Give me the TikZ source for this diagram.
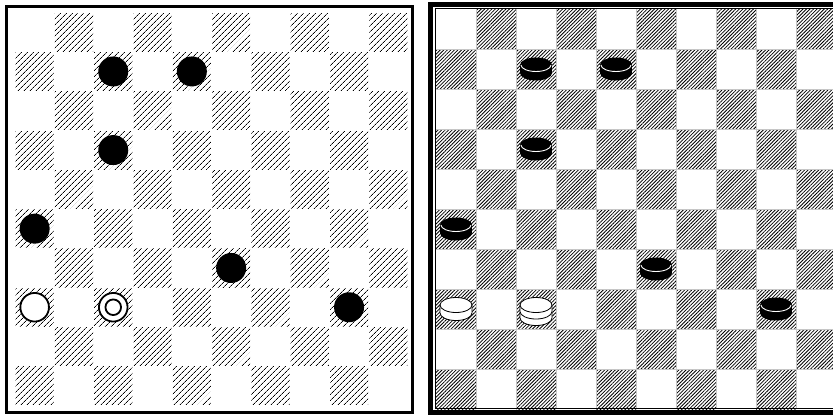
\documentclass[tikz,border=0pt]{standalone}
\usetikzlibrary{patterns.meta}
\begin{document}
\begin{tikzpicture}[x=1pt,y=-1pt,
  frame/.style={line width=3.5pt},
  lhatch/.style={pattern={Lines[angle=45,distance=4pt,line width=0.8pt]},pattern color=black},
  rhatch/.style={pattern={Lines[angle=45,distance=2.5pt,line width=0.8pt]},pattern color=black},
  gridline/.style={gray!45,line width=0.6pt},
  piece/.style={line width=0.8pt},
  bchk/.pic={
    \fill (0,4) ellipse[x radius=16,y radius=7.5];
    \fill (-16,-4) rectangle (16,4);
    \fill (0,-4) ellipse[x radius=16,y radius=7.5];
    \draw[white,line width=0.9pt] (15,-4) arc[start angle=0,end angle=180,x radius=15,y radius=6.5];
  },
  wchk/.pic={
    \draw[piece,fill=white] (-16,-4) -- (-16,4) arc[start angle=180,end angle=0,x radius=16,y radius=7.5] -- (16,-4);
    \draw[piece,fill=white] (0,-4) ellipse[x radius=16,y radius=7.5];
  },
  wking/.pic={
    \draw[piece,fill=white] (-16,2.5) -- (-16,9) arc[start angle=180,end angle=0,x radius=16,y radius=7.5] -- (16,2.5);
    \draw[piece,fill=white] (-16,-4) -- (-16,2.5) arc[start angle=180,end angle=0,x radius=16,y radius=7.5] -- (16,-4);
    \draw[piece,fill=white] (0,-4) ellipse[x radius=16,y radius=7.5];
  }]
\useasboundingbox (0,0) rectangle (833,416);
\clip (0,0) rectangle (833,416);
\fill[white] (0,0) rectangle (833,416);
% ---------- left board ----------
\foreach \r in {1,...,10}{
  \foreach \c in {1,...,10}{
    \pgfmathtruncatemacro\pty{mod(\r+\c,2)}
    \ifnum\pty=1
      \path[lhatch] ({15+39.3*(\c-1)+0.6},{12.5+39.3*(\r-1)+0.6}) rectangle ++(38.1,38.1);
    \fi
  }
}
\draw[frame] (6.5,6.5) rectangle (412.5,412.5);
\foreach \r/\c in {2/3,2/5,4/3,6/1,7/6,8/9}{
  \fill ({15+39.3*(\c-0.5)},{12.5+39.3*(\r-0.5)}) circle[radius=15];
}
\draw[line width=1.8pt,fill=white] ({15+39.3*0.5},{12.5+39.3*7.5}) circle[radius=14.3];
\draw[line width=1.8pt,fill=white] ({15+39.3*2.5},{12.5+39.3*7.5}) circle[radius=14.3];
\draw[line width=1.8pt] ({15+39.3*2.5},{12.5+39.3*7.5}) circle[radius=7.8];
% ---------- right board ----------
\foreach \r in {1,...,10}{
  \foreach \c in {1,...,10}{
    \pgfmathtruncatemacro\pty{mod(\r+\c,2)}
    \ifnum\pty=1
      \path[rhatch] ({436+40*(\c-1)},{9+40*(\r-1)}) rectangle ++(40,40);
    \fi
  }
}
\foreach \i in {1,...,9}{
  \draw[gridline] ({436+40*\i},9) -- ({436+40*\i},409);
  \draw[gridline] (436,{9+40*\i}) -- (840,{9+40*\i});
}
\draw[line width=1pt] (435.5,8.5) rectangle (850,408.5);
\draw[line width=4.8pt] (430.8,4.2) rectangle (860,412.6);
\foreach \r/\c in {2/3,2/5,4/3,6/1,7/6,8/9}{
  \pic at ({436+40*(\c-0.5)},{9+40*(\r-0.5)}) {bchk};
}
\pic at ({436+40*0.5},{9+40*7.5}) {wchk};
\pic at ({436+40*2.5},{9+40*7.5}) {wking};
\end{tikzpicture}
\end{document}
